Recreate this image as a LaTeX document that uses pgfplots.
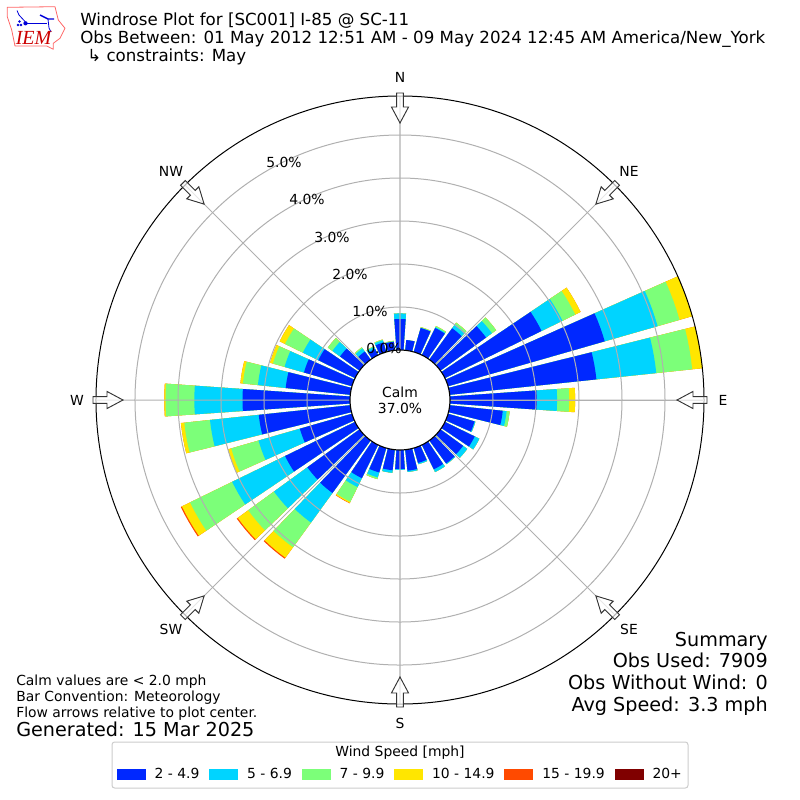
\documentclass[border=0pt]{standalone}
\usepackage{fontspec}
\setmainfont{DejaVu Sans}
\newfontfamily\serifit{Liberation Serif}
\usepackage{pgfplots}
\pgfplotsset{compat=1.18}
\usepgfplotslibrary{polar}
\definecolor{wsA}{HTML}{0028FF}
\definecolor{wsB}{HTML}{00D4FF}
\definecolor{wsC}{HTML}{7CFF79}
\definecolor{wsD}{HTML}{FFE600}
\definecolor{wsE}{HTML}{FF4A00}
\definecolor{wsF}{HTML}{800000}
\definecolor{gridgray}{HTML}{B0B0B0}
\newcommand\fs[1]{\fontsize{#1}{#1}\selectfont}
% one wedge of a stacked bar: direction, cumulative percent, colour
\newcommand\roseseg[3]{%
  \pgfmathsetmacro\rh{#2+1.163}%
  \pgfmathsetmacro\ta{90-#1-4}\pgfmathsetmacro\tb{90-#1-2}\pgfmathsetmacro\tc{90-#1}%
  \pgfmathsetmacro\td{90-#1+2}\pgfmathsetmacro\te{90-#1+4}%
  \addplot[fill=#3,draw=none,forget plot,no markers] coordinates
    {(\ta,1) (\ta,\rh) (\tb,\rh) (\tc,\rh) (\td,\rh) (\te,\rh) (\te,1)};%
}
% direction, then percent of each speed class
\newcommand\rosebar[6]{%
  \pgfmathsetmacro\cA{#2}\pgfmathsetmacro\cB{\cA+#3}\pgfmathsetmacro\cC{\cB+#4}%
  \pgfmathsetmacro\cD{\cC+#5}\pgfmathsetmacro\cE{\cD+#6}%
  \let\sA\cA\let\sB\cB\let\sC\cC\let\sD\cD\let\sE\cE
  \roseseg{#1}{\sE}{wsE}\roseseg{#1}{\sD}{wsD}\roseseg{#1}{\sC}{wsC}%
  \roseseg{#1}{\sB}{wsB}\roseseg{#1}{\sA}{wsA}%
}
\newcommand\flowarrow[1]{%
  \draw[draw=black!80,fill=white,fill opacity=0.7,line width=0.7pt,line join=miter,
        shift={(400,400)},rotate=#1,xshift=228pt]
    (2.25pt,-2.5pt)--(-8.25pt,-2.5pt)--(-8.25pt,-6.4pt)--(-20.25pt,0pt)--
    (-8.25pt,6.4pt)--(-8.25pt,2.5pt)--(2.25pt,2.5pt)--cycle;%
}
\begin{document}
\begin{tikzpicture}[x=0.75pt,y=-0.75pt]
\path[use as bounding box] (0,0) rectangle (800,800);
% legend frame
\draw[draw=black!20,fill=white,rounded corners=2pt,line width=0.75pt] (112,742) rectangle (688,788);
\node[anchor=center,font=\fs{10.42}] at (400,753) {Wind Speed [mph]};
\begin{polaraxis}[
  at={(300pt,-300pt)},anchor=center,scale only axis,width=456pt,height=456pt,
  xmin=0,xmax=360,ymin=0,ymax=7.07,clip=false,
  xtick={0,45,...,315},xticklabels={},
  ytick={2.163,3.163,4.163,5.163,6.163},yticklabels={},
  grid=major,major grid style={gridgray,line width=0.75pt},
  major tick length=0pt,axis on top=true,
  axis line style={black,line width=0.75pt},
  y axis line style={gridgray,line width=0.75pt},
  legend columns=6,
  legend style={draw=none,fill=none,at={(0.501,-0.1155)},anchor=center,
    font=\fs{10.42},inner sep=0pt,
    /tikz/every odd column/.append style={column sep=5pt},
    /tikz/every even column/.append style={column sep=5.4pt}},
  legend image code/.code={\fill[#1] (0pt,-3.9pt) rectangle (21pt,3.9pt);},
]
\rosebar{0}{0.72}{0.13}{0}{0}{0}
\rosebar{10}{0.24}{0}{0}{0}{0}
\rosebar{20}{0.58}{0}{0.02}{0}{0}
\rosebar{30}{0.70}{0.02}{0.03}{0}{0}
\rosebar{40}{0.90}{0.11}{0.05}{0}{0}
\rosebar{50}{1.31}{0.17}{0.12}{0}{0}
\rosebar{60}{2.50}{0.54}{0.33}{0.14}{0}
\rosebar{70}{3.79}{1.28}{0.53}{0.31}{0}
\rosebar{80}{3.43}{1.40}{0.84}{0.24}{0}
\rosebar{90}{2.02}{0.47}{0.28}{0.14}{0}
\rosebar{100}{1.24}{0.09}{0.07}{0}{0}
\rosebar{110}{0.64}{0.02}{0}{0}{0}
\rosebar{120}{0.77}{0.12}{0}{0}{0}
\rosebar{130}{0.65}{0.12}{0}{0}{0}
\rosebar{140}{0.66}{0.02}{0}{0}{0}
\rosebar{150}{0.63}{0.07}{0}{0}{0}
\rosebar{160}{0.36}{0.03}{0}{0}{0}
\rosebar{170}{0.49}{0.03}{0}{0}{0}
\rosebar{180}{0.44}{0.02}{0}{0}{0}
\rosebar{190}{0.48}{0.06}{0}{0}{0}
\rosebar{200}{0.59}{0.12}{0.04}{0}{0}
\rosebar{210}{0.86}{0.23}{0.38}{0.03}{0.01}
\rosebar{220}{1.51}{0.85}{0.71}{0.30}{0.03}
\rosebar{230}{1.50}{0.96}{0.74}{0.30}{0.03}
\rosebar{240}{1.81}{1.37}{1.09}{0.21}{0.03}
\rosebar{250}{1.26}{1.00}{0.66}{0.08}{0}
\rosebar{260}{2.14}{1.14}{0.60}{0.08}{0}
\rosebar{270}{2.50}{1.12}{0.67}{0.03}{0}
\rosebar{280}{1.51}{0.65}{0.35}{0.06}{0}
\rosebar{290}{1.16}{0.47}{0.28}{0.07}{0}
\rosebar{300}{0.95}{0.40}{0.46}{0.14}{0}
\rosebar{310}{0.56}{0.22}{0.13}{0}{0}
\rosebar{320}{0.23}{0.09}{0.03}{0}{0}
\rosebar{330}{0.16}{0.05}{0.02}{0}{0}
\rosebar{340}{0.23}{0.05}{0.02}{0}{0}
\rosebar{350}{0.20}{0}{0.02}{0}{0}
\addlegendimage{wsA}\addlegendentry{2 - 4.9}
\addlegendimage{wsB}\addlegendentry{5 - 6.9}
\addlegendimage{wsC}\addlegendentry{7 - 9.9}
\addlegendimage{wsD}\addlegendentry{10 - 14.9}
\addlegendimage{wsE}\addlegendentry{15 - 19.9}
\addlegendimage{wsF}\addlegendentry{20+}
\end{polaraxis}
% centre
\draw[black,fill=white,line width=0.83pt] (400,400) circle[radius=37.5pt];
\node[font=\fs{10.42}] at (400,392) {Calm};
\node[font=\fs{10.42}] at (400,408) {37.0\%};
% flow arrows
\foreach \a in {0,45,...,315}{\flowarrow{\a}}
% compass labels
\foreach \p/\t in {{400,77}/N,{629,171}/NE,{723,400}/E,{629,629}/SE,{400,723}/S,{171,629}/SW,{77,400}/W,{171,171}/NW}
  \node[font=\fs{10.42}] at (\p) {\t};
% radial labels
\foreach \p/\t in {{384,348}/0.0,{370,311}/1.0,{350,274}/2.0,{332,237}/3.0,{307,199}/4.0,{284,162}/5.0}
  \node[font=\fs{10.42}] at (\p) {\t\%};
% titles
\node[anchor=base west,inner sep=0pt,font=\fs{12.5}] at (80,25) {Windrose Plot for [SC001] I-85 @ SC-11};
\node[anchor=base west,inner sep=0pt,font=\fs{12.5}] at (80,43) {Obs Between: 01 May 2012 12:51 AM - 09 May 2024 12:45 AM America/New\_York};
\node[anchor=base west,inner sep=0pt,font=\fs{12.5}] at (87,61) {↳ constraints: May};
% notes
\node[anchor=base west,inner sep=0pt,font=\fs{10.42}] at (16,685) {Calm values are < 2.0 mph};
\node[anchor=base west,inner sep=0pt,font=\fs{10.42}] at (16,701) {Bar Convention: Meteorology};
\node[anchor=base west,inner sep=0pt,font=\fs{10.42}] at (16,717) {Flow arrows relative to plot center.};
\node[anchor=base west,inner sep=0pt,font=\fs{14.4}] at (16,736) {Generated: 15 Mar 2025};
% summary
\node[anchor=base east,inner sep=0pt,font=\fs{14.4}] at (768,646) {Summary};
\node[anchor=base east,inner sep=0pt,font=\fs{14.4}] at (768,667.5) {Obs Used: 7909};
\node[anchor=base east,inner sep=0pt,font=\fs{14.4}] at (768,689.5) {Obs Without Wind: 0};
\node[anchor=base east,inner sep=0pt,font=\fs{14.4}] at (768,711.5) {Avg Speed: 3.3 mph};
% logo
\draw[red!60!white,line width=0.6pt,line join=round]
  (7.3,7.3)--(55,6.7)--(58.3,20)--(65,28.3)--(60,38.3)--(53.3,43.3)--(53.3,49.3)--(46.7,46)--(15,46)--(11.7,30)--(7.3,16.7)--cycle;
\draw[blue!85!black,line width=1.1pt] (25,23.3)--(47,23.3);
\fill[blue!85!black] (25.5,23.3) circle[radius=1.6pt];
\draw[blue!85!black,line width=0.6pt] (17,10.5)--(19,15)--(25,21.5);
\draw[blue!85!black,line width=1.1pt] (40,15)--(48,19)--(54,19);
\draw[blue!85!black,line width=0.6pt] (48,19)--(49,28)--(51,32);
\fill[blue!85!black] (18,25) circle[radius=1pt] (21,25) circle[radius=1pt] (19.5,21.5) circle[radius=1pt];
\node[anchor=base west,inner sep=0pt,text=red!80!black,font=\serifit\itshape\fs{15}] at (15.5,44) {IEM};
\end{tikzpicture}
\end{document}
